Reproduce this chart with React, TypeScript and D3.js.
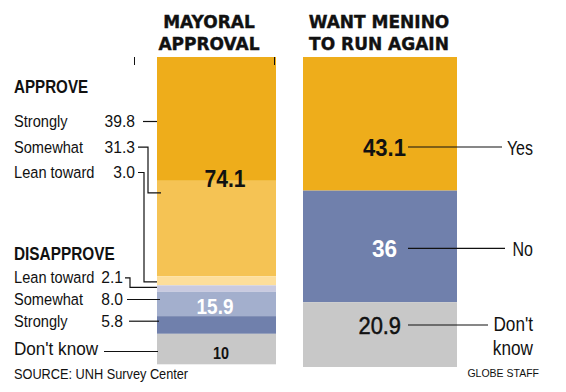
import React from "react";
import * as d3 from "d3";

const approvalGroups = ["APPROVE", "DISAPPROVE"];
const approvalLabels = ["Strongly", "Somewhat", "Lean toward", "Lean toward", "Somewhat", "Strongly", "Don't know"];
const approvalValues = [39.8, 31.3, 3.0, 2.1, 8.0, 5.8, 10];
const approvalTotals = ["74.1", "15.9", "10"];
const runLabels = ["Yes", "No", "Don't know"];
const runValues = [43.1, 36, 20.9];
const titles = [["MAYORAL", "APPROVAL"], ["WANT MENINO", "TO RUN AGAIN"]];
const source = "SOURCE: UNH Survey Center";
const credit = "GLOBE STAFF";

const leftColors = ["#EEAD1B", "#F5C354", "#FDDE9B", "#C9CAE0", "#A3AFCD", "#7080AC", "#C8C8C8"];
const rightColors = ["#EEAD1B", "#7080AC", "#C8C8C8"];

const SANS = "'Liberation Sans', Arial, sans-serif";
const WIDE = "'DejaVu Sans', sans-serif";

function stack(values: number[]) {
  let acc = 0;
  return values.map((v) => {
    const s = { y0: acc, y1: acc + v, v };
    acc += v;
    return s;
  });
}

type NProps = {
  x: number; y: number; sx?: number; anchor?: string; size: number; bold?: boolean;
  fill?: string; stroke?: string; sw?: number; children: React.ReactNode;
};
function NText({ x, y, sx = 0.85, anchor = "start", size, bold = false, fill = "#111", stroke = "none", sw = 0, children }: NProps) {
  return (
    <text transform={`translate(${x},${y}) scale(${sx},1)`} textAnchor={anchor} fontFamily={SANS}
      fontWeight={bold ? "bold" : "normal"} fontSize={size} fill={fill} stroke={stroke} strokeWidth={sw}>
      {children}
    </text>
  );
}

export default function App() {
  const W = 566, H = 392;
  const barTop = 57;
  const yL = d3.scaleLinear().domain([0, 100]).range([59.5, 364.3]);
  const yR = d3.scaleLinear().domain([0, 100]).range([57, 367]);
  const lx0 = 157, lx1 = 276;
  const rx0 = 303, rx1 = 457;
  const ls = stack(approvalValues);
  const rs = stack(runValues);

  const labelBase = [127, 152.7, 178, 283.3, 305, 326.7, 355];
  const valueX = [135, 135, 135, 123, 123, 123, 0];
  const line = (i: number): string => {
    const s = ls[i];
    const ly = labelBase[i] - 5.5;
    if (i === 0) return `M143,${ly}H${lx0}`;
    if (i === 1) { const a = yL(s.y0) + 12; return `M138,${ly}H148V${a}H161`; }
    if (i === 2) { const a = (yL(s.y0) + yL(s.y1)) / 2 + 1; return `M138,${ly}H144V${a}H${lx0}`; }
    if (i === 3) { const a = yL(s.y0) + 2; return `M125,${ly}H130V${a}H${lx0}`; }
    if (i === 4) return `M127,${ly}H160`;
    if (i === 5) return `M129,${ly}H159`;
    return `M104,${ly + 2}H158`;
  };

  const appTop = yL(0), appBot = yL(ls[2].y1);
  const disBot = yL(ls[5].y1);
  const dkBot = yL(ls[6].y1);

  const rightLineY = [147, 248.3, 325];
  const rightValX = [406, 397, 401];
  const rightLineEnd = [502, 505, 488];

  return (
    <svg width={W} height={H} style={{ position: "absolute", left: 0, top: 0, background: "#fff" }}>
      {titles.map((tt, j) => tt.map((t, i) => (
        <text key={"t" + j + i} x={j === 0 ? 209 : 379} y={28 + i * 22} textAnchor="middle" fontFamily={WIDE}
          fontWeight="bold" fontSize={17} fill="#111" stroke="#111" strokeWidth={0.4}>{t}</text>
      )))}

      {ls.map((s, i) => {
        const top = i === 0 ? barTop : yL(s.y0);
        return <rect key={"l" + i} x={lx0} width={lx1 - lx0} y={top} height={yL(s.y1) - top} fill={leftColors[i]} />;
      })}
      {rs.map((s, i) => (
        <rect key={"r" + i} x={rx0} width={rx1 - rx0} y={yR(s.y0)} height={yR(s.y1) - yR(s.y0)} fill={rightColors[i]} />
      ))}

      <line x1={134.5} x2={134.5} y1={57} y2={65} stroke="#111" strokeWidth={1} />
      <line x1={274.5} x2={274.5} y1={57} y2={65} stroke="#111" strokeWidth={1} />

      <NText x={14} y={93} size={18.5} bold sx={0.82}>{approvalGroups[0]}</NText>
      <NText x={14} y={260} size={18.5} bold sx={0.83}>{approvalGroups[1]}</NText>

      {approvalLabels.map((lab, i) => (
        <g key={"lab" + i}>
          <NText x={14} y={labelBase[i]} size={i === 6 ? 19 : 17} sx={i === 6 ? 0.9 : 0.86}>{lab}</NText>
          {i < 6 && (
            <NText x={valueX[i]} y={labelBase[i]} anchor="end" size={17} sx={0.92}>{approvalValues[i].toFixed(1)}</NText>
          )}
          <path d={line(i)} fill="none" stroke="#111" strokeWidth={1.2} />
        </g>
      ))}

      <NText x={225} y={(appTop + appBot) / 2 + 14.5} anchor="middle" size={24} bold sx={0.88}>{approvalTotals[0]}</NText>
      <NText x={215} y={(appBot + disBot) / 2 + 4} anchor="middle" size={22} bold sx={0.86} fill="#fff">{approvalTotals[1]}</NText>
      <NText x={221} y={(disBot + dkBot) / 2 + 9.5} anchor="middle" size={16} bold sx={0.9}>{approvalTotals[2]}</NText>

      {rs.map((s, i) => (
        <g key={"rl" + i}>
          <NText x={rightValX[i]} y={rightLineY[i] + 9} anchor="end" size={24} bold={i !== 2}
            sx={i === 0 ? 0.92 : i === 1 ? 0.94 : 0.91} fill={i === 1 ? "#fff" : "#111"}
            stroke={i === 2 ? "#111" : "none"} sw={0.5}>
            {i === 1 ? String(s.v) : s.v.toFixed(1)}
          </NText>
          <line x1={408} x2={rightLineEnd[i]} y1={rightLineY[i]} y2={rightLineY[i]} stroke="#111" strokeWidth={1.2} />
          {i < 2 ? (
            <NText x={533} y={rightLineY[i] + 8} anchor="end" size={20} sx={0.8}>{runLabels[i]}</NText>
          ) : (
            <g>
              <NText x={533} y={331} anchor="end" size={20} sx={0.86}>{runLabels[i].split(" ")[0]}</NText>
              <NText x={533} y={355} anchor="end" size={20} sx={0.86}>{runLabels[i].split(" ")[1]}</NText>
            </g>
          )}
        </g>
      ))}

      <NText x={14} y={379} size={15} sx={0.85}>{source}</NText>
      <text x={539} y={377} textAnchor="end" fontFamily={SANS} fontSize={10.5} fill="#111">{credit}</text>
    </svg>
  );
}
